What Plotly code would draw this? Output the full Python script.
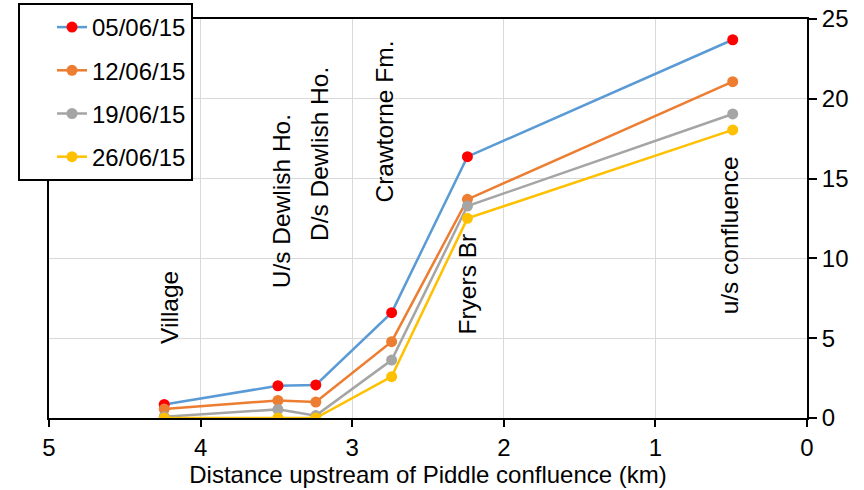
import plotly.graph_objects as go

sites = ["Village", "U/s Dewlish Ho.", "D/s Dewlish Ho.", "Crawtorne Fm.", "Fryers Br", "u/s confluence"]
distance_km = [4.24, 3.49, 3.24, 2.74, 2.24, 0.49]

dates = ["05/06/15", "12/06/15", "19/06/15", "26/06/15"]
v_0506 = [0.85, 2.02, 2.07, 6.6, 16.37, 23.7]
v_1206 = [0.56, 1.1, 1.0, 4.78, 13.7, 21.07]
v_1906 = [0.08, 0.54, 0.15, 3.63, 13.28, 19.05]
v_2606 = [0.0, 0.0, 0.0, 2.59, 12.51, 18.05]
series = [v_0506, v_1206, v_1906, v_2606]

line_colors = ["#5B9BD5", "#ED7D31", "#A5A5A5", "#FFC000"]
marker_colors = ["#FF0000", "#ED7D31", "#A5A5A5", "#FFC000"]

# label placement (x offset in px, bottom of rotated label in y units)
label_xshift = [5, 3, 3, -7, 0, -3]
label_bottom = [4.5, 8.0, 10.95, 13.35, 5.1, 6.35]

FONT = "Liberation Sans, Arial, sans-serif"

fig = go.Figure()
for i, (d, vals) in enumerate(zip(dates, series)):
    fig.add_trace(go.Scatter(
        x=distance_km, y=vals, name=d, mode="lines+markers",
        legendgroup=d,
        line=dict(color=line_colors[i], width=2.5),
        marker=dict(color=marker_colors[i], size=11),
    ))

for s, x, dx, yb in zip(sites, distance_km, label_xshift, label_bottom):
    fig.add_annotation(x=x, y=yb, xref="x", yref="y", text=s, textangle=-90,
                       showarrow=False, xanchor="center", yanchor="bottom",
                       xshift=dx, font=dict(size=24.5, color="#000000", family=FONT))

fig.update_layout(
    width=864, height=490,
    margin=dict(l=49, r=57, t=19, b=72, autoexpand=False),
    paper_bgcolor="white", plot_bgcolor="white",
    font=dict(family=FONT, size=24, color="#000000"),
    showlegend=True,
    legend=dict(xref="container", yref="container", x=18 / 864, y=1 - 3 / 490,
                xanchor="left", yanchor="top",
                bordercolor="#000000", borderwidth=2, bgcolor="white",
                traceorder="grouped", tracegroupgap=9, indentation=32,
                entrywidth=178,
                font=dict(size=24, family=FONT)),
    xaxis=dict(range=[5, 0], tickvals=[5, 4, 3, 2, 1, 0],
               showgrid=True, gridcolor="#D9D9D9", gridwidth=1,
               showline=True, linecolor="#000000", linewidth=2, mirror=True,
               ticks="outside", ticklen=7, tickcolor="#000000", tickwidth=2,
               zeroline=False, automargin=False,
               title=dict(text="Distance upstream of Piddle confluence (km)", standoff=0,
                          font=dict(size=24, family=FONT))),
    yaxis=dict(range=[0, 25], tickvals=[0, 5, 10, 15, 20, 25], side="right",
               showgrid=True, gridcolor="#D9D9D9", gridwidth=1,
               showline=True, linecolor="#000000", linewidth=2, mirror=True,
               ticks="outside", ticklen=8, tickcolor="#000000", tickwidth=2,
               zeroline=False, automargin=False),
)

fig.write_html("out.html", config={"displayModeBar": False},
               post_script="document.body.style.margin='0';document.body.style.overflow='hidden';")
